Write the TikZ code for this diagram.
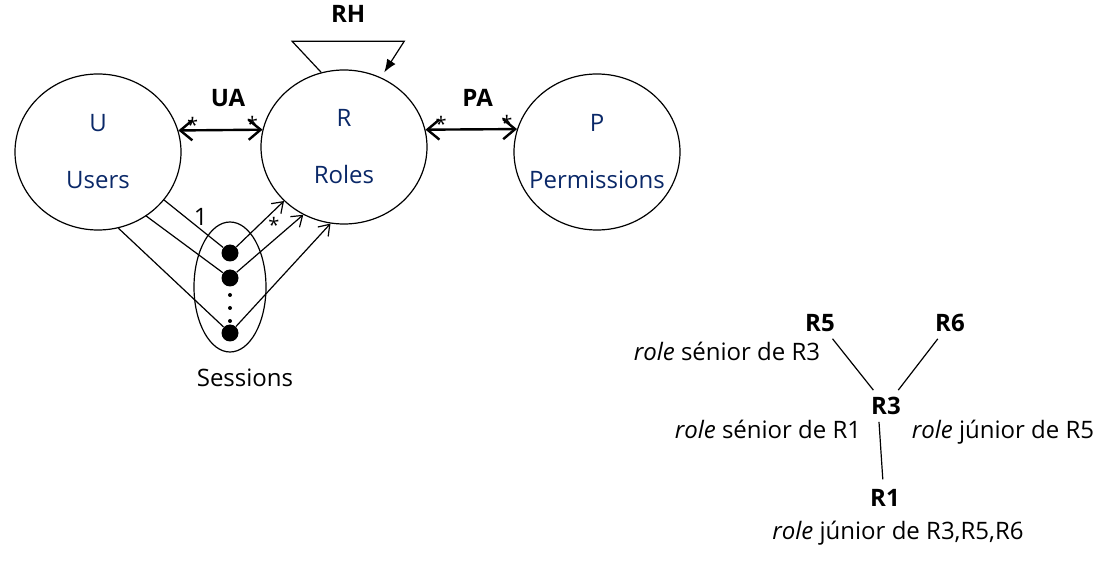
\documentclass[tikz,border=0pt]{standalone}
\usepackage{fontspec}
\setmainfont{Open Sans}
\usetikzlibrary{shapes.geometric, arrows.meta, positioning, calc}
\definecolor{azulTexto}{HTML}{0A2868}

\begin{document}
\begin{tikzpicture}[x=0.5pt, y=-0.5pt, font=\fontsize{12}{14}\selectfont,
        conj/.style={draw, ellipse, inner sep=0, line width=0.6pt,
            minimum width=83pt, minimum height=78pt},
        nome/.style={text=azulTexto, align=center, font=\fontsize{12}{28.5}\selectfont},
        rel/.style={{Straight Barb[length=6pt,width=10pt]}-{Straight Barb[length=6pt,width=10pt]},
            line width=1.2pt},
        fio/.style={line width=0.6pt},
        ses/.style={-{Straight Barb[length=5pt,width=7pt]}, line width=0.6pt},
        ponto/.style={circle, fill, inner sep=0, minimum size=8.5pt},
        mini/.style={circle, fill, inner sep=0, minimum size=2pt},
        card/.style={inner sep=0, font=\fontsize{10}{12}\selectfont},
        papel/.style={font=\bfseries\fontsize{12}{14}\selectfont}]
        \useasboundingbox (0,0) rectangle (1116,567);
        % conjuntos
        \node[conj] (u) at (98,152) {};
        \node[nome] (utxt) at (u) {U\\Users};
        \node[conj, minimum height=77pt] (r) at (344,147) {};
        \node[nome] (rtxt) at (r) {R\\Roles};
        \node[conj] (p) at (597,152) {};
        \node[nome] (ptxt) at (p) {P\\Permissions};
        \draw[rel] (u.15) -- node[pos=.59, above=11pt, papel, inner sep=0]{UA}
            node[pos=.17, above=-1.5pt, card]{*} node[pos=.88, above=-1.5pt, card]{*} (r.168);
        \draw[rel] (r.12) -- node[pos=.57, above=11pt, papel, inner sep=0]{PA}
            node[pos=.17, above=-1.5pt, card]{*} node[pos=.89, above=-1.5pt, card]{*} (p.164);
        \draw[fio, -{Latex[length=6.5pt,width=5pt]}, shorten >=3pt] (r.107) -- ++(-29,-31)
            -- node[above=9pt, papel, inner sep=0]{RH} ++(112,0) -- (r.62);
        % sessoes
        \node[draw, ellipse, inner sep=0, line width=0.6pt,
            minimum width=36pt, minimum height=65pt] (s) at (230,287) {};
        \node[ponto] (d1) at (230,253) {};
        \node[ponto] (d2) at (230,278) {};
        \node[ponto] (d3) at (230,333) {};
        \foreach \y [count=\i] in {295,308,321}
            \node[mini] (m\i) at (230,\y) {};
        \node (slbl) at (245,378) {Sessions};
        \draw[fio] (u.-36) -- node[pos=.62, above=1.5pt, inner sep=0]{1} (d1);
        \draw[fio] (u.-53) -- (d2);
        \draw[fio] (u.-75) -- (d3);
        \draw[ses] (d1) -- node[pos=.66, anchor=north west, card]{*} (r.222);
        \draw[ses] (d2) -- (r.239);
        \draw[ses] (d3) -- (r.260);
        % hierarquia
        \node[papel] (r5) at (820,323) {R5};
        \node[papel] (r6) at (950,323) {R6};
        \node[papel] (r3) at (886,406) {R3};
        \node[papel] (r1) at (885,498) {R1};
        \node (n5) at (727,351) {\textit{role} sénior de R3};
        \node (n3a) at (768,429) {\textit{role} sénior de R1};
        \node (n3b) at (1003,432) {\textit{role} júnior de R5};
        \node (n1) at (898,533) {\textit{role} júnior de R3,R5,R6};
        \draw[fio] (r5) -- (r3);
        \draw[fio] (r6) -- (r3);
        \draw[fio, shorten >=1.5pt] ([xshift=-3.5pt]r3.south) -- ([xshift=-1pt]r1.north);
    \end{tikzpicture}
\end{document}
